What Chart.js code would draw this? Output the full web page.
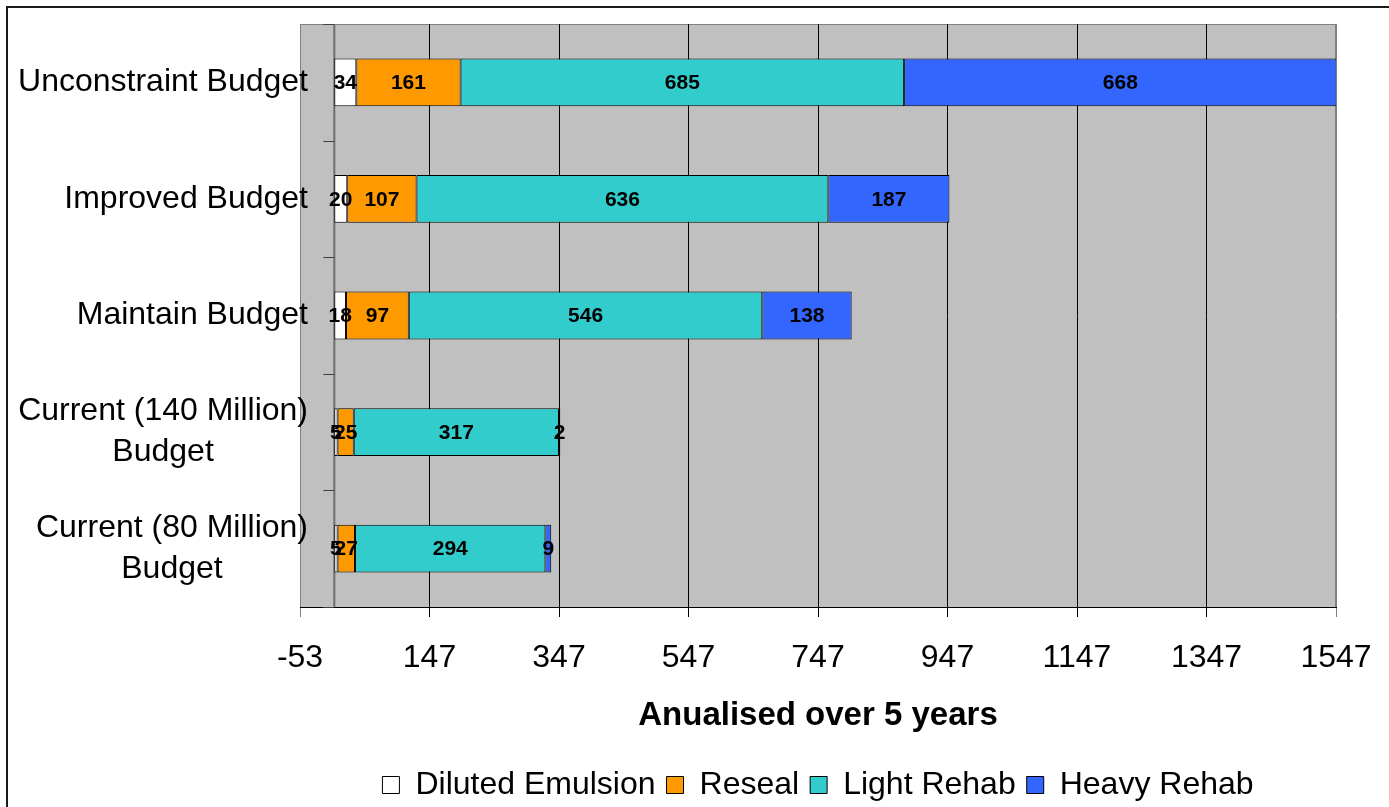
<!DOCTYPE html>
<html>
<head>
<meta charset="utf-8">
<title>Annualised budget scenarios</title>
<script src="https://cdn.jsdelivr.net/npm/chart.js@4/dist/chart.umd.min.js"></script>
<style>
  html, body { margin: 0; padding: 0; background: #ffffff; }
  #wrap { width: 1389px; height: 807px; position: relative; }
</style>
</head>
<body>
<div id="wrap"><canvas id="chart" width="1389" height="807"></canvas></div>
<script>
// Budget scenarios (one horizontal stacked bar each)
const categories = [
  "Unconstraint Budget",
  "Improved Budget",
  "Maintain Budget",
  ["Current (140 Million)", "Budget"],
  ["Current (80 Million)", "Budget"]
];

// Treatment amounts per scenario, annualised over 5 years
const dilutedEmulsion = [34, 20, 18, 5, 5];
const reseal          = [161, 107, 97, 25, 27];
const lightRehab      = [685, 636, 546, 317, 294];
const heavyRehab      = [668, 187, 138, 2, 9];

// Axis ticks
const xTicks = [-53, 147, 347, 547, 747, 947, 1147, 1347, 1547];
const xMin = -53;
const xMax = 1547;

const FONT = '"Liberation Sans", Arial, Helvetica, sans-serif';

// Grey plot area, outer frame and zero axis with category tick marks
const plotFrame = {
  id: 'plotFrame',
  beforeDraw(chart) {
    const { ctx, chartArea: a } = chart;
    ctx.save();
    ctx.fillStyle = '#C0C0C0';
    ctx.fillRect(a.left, a.top, a.right - a.left, a.bottom - a.top);
    ctx.strokeStyle = '#808080';
    ctx.lineWidth = 1;
    ctx.strokeRect(a.left + 0.5, a.top + 0.5, a.right - a.left - 1, a.bottom - a.top);
    // outer chart frame
    ctx.strokeStyle = '#1a1a1a';
    ctx.lineWidth = 2;
    ctx.strokeRect(7, 7, chart.width + 20, chart.height + 20);
    ctx.restore();
  },
  beforeDatasetsDraw(chart) {
    const { ctx, chartArea: a, scales: { x } } = chart;
    const x0 = x.getPixelForValue(0);
    ctx.save();
    ctx.strokeStyle = '#6e6e6e';
    ctx.lineWidth = 2;
    ctx.beginPath();
    ctx.moveTo(x0, a.top);
    ctx.lineTo(x0, a.bottom);
    ctx.stroke();
    // short marks at the category boundaries
    ctx.lineWidth = 1;
    ctx.strokeStyle = '#404040';
    const n = categories.length;
    const step = (a.bottom - a.top) / n;
    for (let i = 0; i <= n; i++) {
      const yy = Math.round(a.top + i * step) + 0.5;
      ctx.beginPath();
      ctx.moveTo(x0 - 11, yy);
      ctx.lineTo(x0, yy);
      ctx.stroke();
    }
    ctx.restore();
  }
};

// Value labels centred in each bar segment
const segmentLabels = {
  id: 'segmentLabels',
  afterDatasetsDraw(chart) {
    const { ctx } = chart;
    ctx.save();
    ctx.font = 'bold 21px ' + FONT;
    ctx.fillStyle = '#000000';
    ctx.textAlign = 'center';
    ctx.textBaseline = 'middle';
    chart.data.datasets.forEach((ds, di) => {
      const meta = chart.getDatasetMeta(di);
      meta.data.forEach((bar, i) => {
        const v = ds.data[i];
        const cx = (bar.x + bar.base) / 2;
        ctx.fillText(String(v), cx, bar.y + 1);
      });
    });
    ctx.restore();
  }
};

// Category names left of the plot; multi-line names are centred within their block
const categoryNames = {
  id: 'categoryNames',
  afterDraw(chart) {
    const { ctx, scales: { y } } = chart;
    const rightEdge = chart.chartArea.left + 8;
    const lineGap = 41;
    ctx.save();
    ctx.font = '32px ' + FONT;
    ctx.fillStyle = '#000000';
    ctx.textAlign = 'center';
    ctx.textBaseline = 'middle';
    chart.data.labels.forEach((lab, i) => {
      const lines = Array.isArray(lab) ? lab : [lab];
      const widest = Math.max(...lines.map(s => ctx.measureText(s).width));
      const cx = rightEdge - widest / 2;
      const cy = y.getPixelForValue(i);
      lines.forEach((s, j) => {
        ctx.fillText(s, cx, cy + (j - (lines.length - 1) / 2) * lineGap);
      });
    });
    ctx.restore();
  }
};

const ctx = document.getElementById('chart').getContext('2d');
new Chart(ctx, {
  type: 'bar',
  data: {
    labels: categories,
    datasets: [
      { label: 'Diluted Emulsion', data: dilutedEmulsion, backgroundColor: '#FFFFFF' },
      { label: 'Reseal',           data: reseal,          backgroundColor: '#FF9900' },
      { label: 'Light Rehab',      data: lightRehab,      backgroundColor: '#33CCCC' },
      { label: 'Heavy Rehab',      data: heavyRehab,      backgroundColor: '#3366FF' }
    ].map(d => Object.assign(d, {
      borderColor: '#000000',
      borderWidth: 1,
      borderSkipped: false,
      barPercentage: 0.41,
      categoryPercentage: 1.0
    }))
  },
  options: {
    indexAxis: 'y',
    responsive: false,
    animation: false,
    devicePixelRatio: 1,
    layout: { padding: { left: 300, top: 24, right: 53, bottom: -4 } },
    scales: {
      x: {
        type: 'linear',
        stacked: true,
        min: xMin,
        max: xMax,
        afterBuildTicks(scale) {
          scale.ticks = xTicks.map(v => ({ value: v }));
        },
        afterFit(scale) {
          scale.height = 151;
          // end labels fit inside the layout padding
          scale.paddingLeft = 0;
          scale.paddingRight = 0;
        },
        ticks: {
          autoSkip: false,
          maxRotation: 0,
          padding: 22,
          color: '#000000',
          font: { family: FONT, size: 32 },
          callback: v => String(v)
        },
        grid: {
          drawOnChartArea: true,
          drawTicks: true,
          tickLength: 10,
          lineWidth: 1,
          color: c => (c.index === 0 || c.index === xTicks.length - 1) ? '#808080' : '#000000'
        },
        border: { display: true, color: '#000000', width: 1 },
        title: {
          display: true,
          text: 'Anualised over 5 years',
          color: '#000000',
          font: { family: FONT, size: 33, weight: 'bold' },
          padding: { top: 4, bottom: 22 }
        }
      },
      y: {
        type: 'category',
        stacked: true,
        display: false
      }
    },
    plugins: {
      legend: {
        position: 'bottom',
        labels: {
          color: '#000000',
          font: { family: FONT, size: 32 },
          boxWidth: 17,
          boxHeight: 17,
          padding: 11
        }
      },
      tooltip: { enabled: false }
    }
  },
  plugins: [plotFrame, segmentLabels, categoryNames]
});
</script>
</body>
</html>
